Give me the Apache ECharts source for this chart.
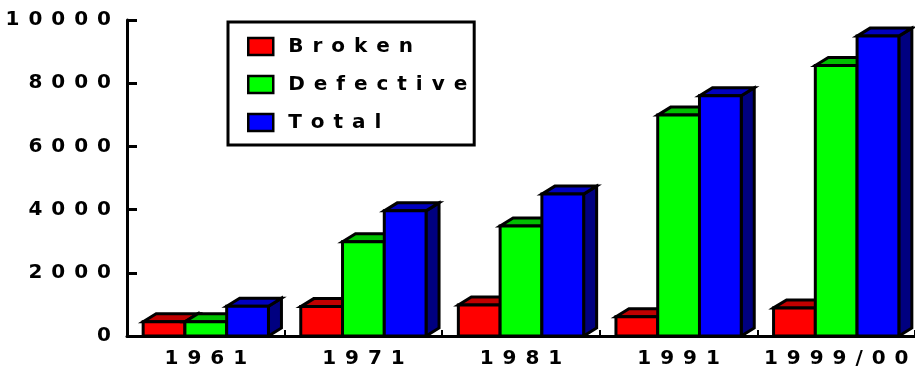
<!DOCTYPE html>
<html>
<head>
<meta charset="utf-8">
<style>
html,body{margin:0;padding:0;background:#fff;}
#chart{width:915px;height:369px;}
</style>
<script src="https://cdn.jsdelivr.net/npm/echarts@6/dist/echarts.min.js"></script>
</head>
<body>
<div id="chart"></div>
<script>
const categories = ['1961', '1971', '1981', '1991', '1999/00'];
const broken = [450, 930, 980, 610, 890];
const defective = [450, 2980, 3480, 6990, 8560];
const total = [940, 3960, 4490, 7600, 9490];
const yTicks = [0, 2000, 4000, 6000, 8000, 10000];

const seriesNames = ['Broken', 'Defective', 'Total'];
const frontColors = ['#FF0000', '#00FF00', '#0000FF'];
const topColors = ['#C00000', '#00C000', '#0000C0'];
const sideColors = ['#800000', '#008000', '#000080'];

const FONT = '"DejaVu Sans", "Liberation Sans", sans-serif';
const spacedAxis = s => String(s).split('').join(' \u200A');
const spacedLegend = s => String(s).split('').join(' \u200A');

const chart = echarts.init(document.getElementById('chart'));

function makeRender(k) {
  return function (params, api) {
    const ci = api.value(0);
    const v = api.value(1);
    const top = api.coord([ci, v]);
    const base = api.coord([ci, 0]);
    const band = api.size([1, 0])[0];
    const w = band * 0.265;
    const dx = 13, dy = 8;
    const x0 = top[0] + (k - 1.5) * w;
    const x1 = x0 + w;
    const yt = top[1], yb = base[1];
    const stroke = { stroke: '#000', lineWidth: 3, lineJoin: 'miter' };
    return {
      type: 'group',
      children: [
        { type: 'polygon', shape: { points: [[x1, yt], [x1 + dx, yt - dy], [x1 + dx, yb - dy], [x1, yb]] },
          style: Object.assign({ fill: sideColors[k] }, stroke) },
        { type: 'polygon', shape: { points: [[x0, yt], [x0 + dx, yt - dy], [x1 + dx, yt - dy], [x1, yt]] },
          style: Object.assign({ fill: topColors[k] }, stroke) },
        { type: 'rect', shape: { x: x0, y: yt, width: w, height: yb - yt },
          style: Object.assign({ fill: frontColors[k] }, stroke) }
      ]
    };
  };
}

const dataSets = [broken, defective, total];
const series = dataSets.map((arr, k) => ({
  name: seriesNames[k],
  type: 'custom',
  renderItem: makeRender(k),
  encode: { x: 0, y: 1 },
  itemStyle: { color: frontColors[k], borderColor: '#000', borderWidth: 2.5 },
  data: arr.map((v, i) => [i, v]),
  clip: true
}));

chart.setOption({
  animation: false,
  backgroundColor: '#fff',
  grid: { left: 127, top: 20, width: 795, bottom: 33, containLabel: false },
  legend: {
    orient: 'vertical',
    left: 228,
    top: 22,
    padding: [14, 7, 12, 19],
    itemGap: 17,
    itemWidth: 25,
    itemHeight: 17,
    icon: 'rect',
    borderColor: '#000',
    borderWidth: 3,
    borderRadius: 0,
    backgroundColor: '#fff',
    itemStyle: { borderColor: '#000', borderWidth: 2.5 },
    formatter: name => spacedLegend(name),
    textStyle: { fontFamily: FONT, fontSize: 20, fontWeight: 'bold', color: '#000', lineHeight: 21, padding: [0, 0, 0, 10] },
    data: seriesNames
  },
  xAxis: {
    type: 'category',
    data: categories,
    axisLine: { lineStyle: { color: '#000', width: 3 } },
    axisTick: { show: true, inside: true, length: 6, alignWithLabel: false, lineStyle: { color: '#000', width: 2 } },
    axisLabel: { interval: 0, formatter: v => spacedAxis(v), fontFamily: FONT, fontSize: 20, fontWeight: 'bold', color: '#000', margin: 13 },
    splitLine: { show: false }
  },
  yAxis: {
    type: 'value',
    min: yTicks[0],
    max: yTicks[yTicks.length - 1],
    interval: yTicks[1] - yTicks[0],
    axisLine: { show: true, lineStyle: { color: '#000', width: 3 } },
    axisTick: { show: true, inside: true, length: 10, lineStyle: { color: '#000', width: 3 } },
    axisLabel: { formatter: v => spacedAxis(v), fontFamily: FONT, fontSize: 20, fontWeight: 'bold', color: '#000', margin: 16 },
    splitLine: { show: false }
  },
  series: series
});
</script>
</body>
</html>
